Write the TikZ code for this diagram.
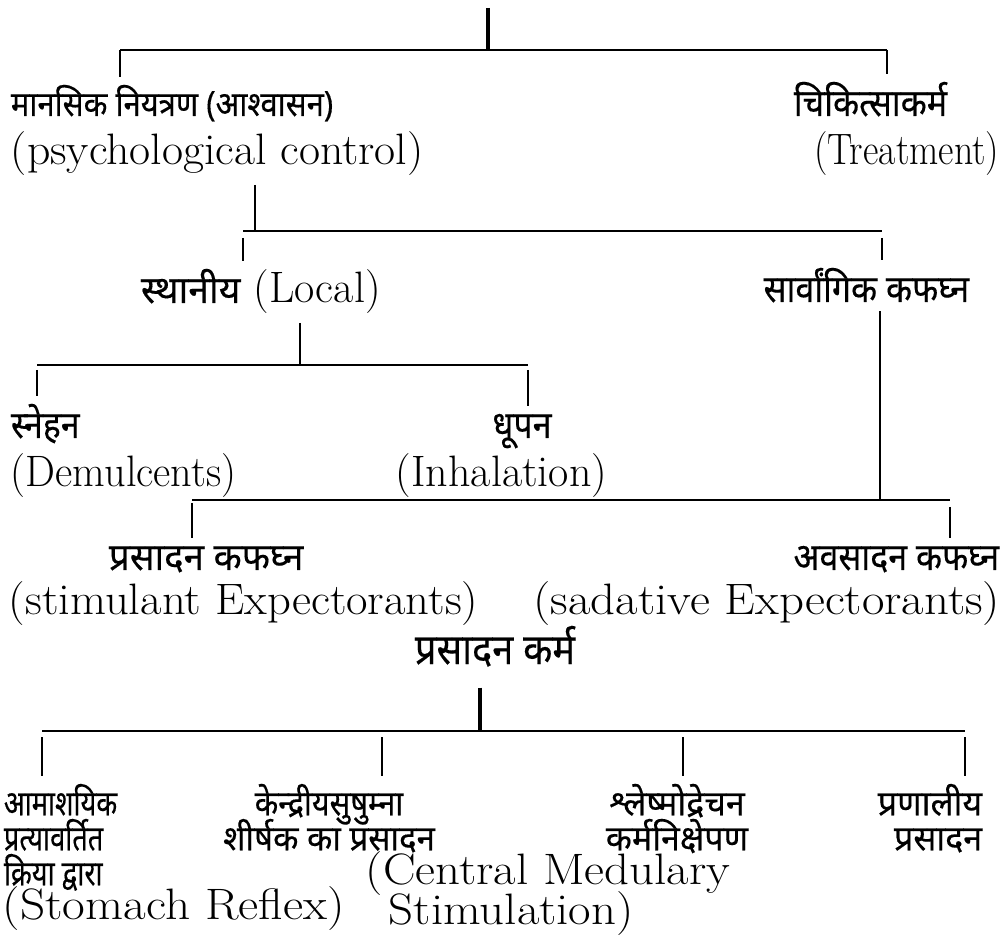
\documentclass[tikz,border=0pt]{standalone}
\usepackage{graphicx}
\usepackage{fontspec}
\newfontfamily\dev[Script=Devanagari,FakeBold=0.3]{Noto Sans}
\newcommand\hisize{\fontsize{34}{35}\selectfont}
\newcommand\tl[1]{\scalebox{1}[1.12]{#1}}
\newcommand\tlx[2]{\scalebox{#1}[1.12]{#2}}
\newcommand\tlb[2]{\scalebox{#1}[1.03]{#2}}
\newcommand\sx[2]{\scalebox{#1}[1]{#2}}
\begin{document}
\lineskiplimit=-100pt
\lineskip=0pt
\begin{tikzpicture}[x=1pt,y=-1pt,line width=1.8pt,
  en/.style={inner sep=0pt,font=\fontsize{44}{40}\selectfont},
  hi/.style={inner sep=0pt,font=\dev\hisize},
  hib/.style={inner sep=0pt,font=\dev\bfseries\fontsize{38}{38}\selectfont},
  stub/.style={line width=3.6pt},
  gap/.style={shorten >=7pt}]
\useasboundingbox (0,0) rectangle (1005,949);

% ---------- level 0 ----------
\node[hi,anchor=base west,font=\dev\fontsize{31}{32}\selectfont] (mn) at (10,116) {\tl{मानसिक नियत्रण (आश्वासन)}};
\node[en,anchor=base west] (mnE) at (10,165) {\sx{1.04}{(psychological control)}};
\node[hi,anchor=base east] (ck) at (948,116) {\tl{चिकित्साकर्म}};
\node[en,anchor=base east] (ckE) at (1000,165) {\sx{0.86}{(Treatment)}};
\coordinate (r0) at (488,8);
\coordinate (j0) at (488,50);
\coordinate (b0L) at (120,50);
\coordinate (b0R) at (887,50);
\draw[stub] (r0) -- (j0);
\draw (b0L) -- (b0R);
\draw[gap] (b0L) -- (b0L |- mn.north);
\draw[gap] (b0R) -- (b0R |- ck.north);

% ---------- level 1 ----------
\node[en,anchor=base west] (lo) at (140,303) {{\dev\hisize\tlx{1.1}{स्थानीय}} (Local)};
\node[hi,anchor=base east] (sv) at (970,302) {\tl{सार्वांगिक कफघ्न}};
\coordinate (j1) at (255,231);
\coordinate (b1L) at (243,231);
\coordinate (b1R) at (882,231);
\draw[shorten <=8pt] (j1 |- mnE.south) -- (j1);
\draw (b1L) -- (b1R);
\draw[shorten <=7pt,gap] (b1L) -- (b1L |- lo.north);
\draw[shorten <=7pt,gap] (b1R) -- (b1R |- sv.north);

% ---------- level 2 (Local) ----------
\node[hi,anchor=base west] (sn) at (10,438) {\tl{स्नेहन}};
\node[en,anchor=base west] (snE) at (10,487) {\sx{0.96}{(Demulcents)}};
\node[hi,anchor=base] (dh) at (522,438) {\tl{धूपन}};
\node[en,anchor=base west] (dhE) at (395,487) {(Inhalation)};
\coordinate (j2) at (300,365);
\coordinate (b2L) at (37,365);
\coordinate (b2R) at (528,365);
\draw[line width=2.6pt,shorten <=8pt] (j2 |- lo.south) -- (j2);
\draw (b2L) -- (b2R);
\draw[shorten <=5pt,gap] (b2L) -- (b2L |- sn.north);
\draw[shorten <=5pt,gap] (b2R) -- (b2R |- dh.north);

% ---------- level 3 (sarvangik) ----------
\node[hi,anchor=base west] (pk) at (108,570) {\tlx{1.08}{प्रसादन कफघ्न}};
\node[en,anchor=base west] (pkE) at (8,614) {\sx{1.06}{(stimulant Expectorants)}};
\node[hi,anchor=base east] (ak) at (1000,570) {\tl{अवसादन कफघ्न}};
\node[en,anchor=base east] (akE) at (1001,614) {\sx{1.11}{(sadative Expectorants)}};
\coordinate (j3) at (880,500);
\coordinate (b3L) at (192,500);
\coordinate (b3R) at (950,500);
\draw[shorten <=8pt] (j3 |- sv.south) -- (j3);
\draw (b3L) -- (b3R);
\draw[shorten <=3pt,gap] (b3L) -- (b3L |- pk.north);
\draw[shorten <=7pt,gap] (b3R) -- (b3R |- ak.north);

% ---------- level 4 (prasadan karma) ----------
\node[hib,anchor=base] (pm) at (495,664) {\tl{प्रसादन कर्म}};
\node[hi,align=left,anchor=north west] (c1) at (3,783) {\tlb{0.8}{आमाशयिक}\\\tlb{0.8}{प्रत्यावर्तित}\\\tlb{0.8}{क्रिया द्वारा}};
\node[en,anchor=base west] (c1E) at (2,919) {\sx{1.12}{(Stomach Reflex)}};
\node[hi,align=center,anchor=north] (c2) at (329,783) {\tlb{0.9}{केन्द्रीयसुषुम्ना}\\\tlb{0.97}{शीर्षक का प्रसादन}};
\node[en,align=left,anchor=north west] (c2E) at (365,851) {\sx{1.11}{(Central Medulary}\\\hspace*{23pt}\sx{1.11}{Stimulation)}};
\node[hi,align=center,anchor=north] (c3) at (677,783) {\tlb{1}{श्लेष्मोद्रेचन}\\\tlb{1}{कर्मनिक्षेपण}};
\node[hi,align=right,anchor=north east] (c4) at (983,783) {\tlb{1}{प्रणालीय}\\\tlb{1}{प्रसादन}};
\coordinate (j4) at (480,731);
\coordinate (b4a) at (42,731);
\coordinate (b4b) at (382,731);
\coordinate (b4c) at (683,731);
\coordinate (b4d) at (965,731);
\draw[stub,shorten <=20pt] (j4 |- pm.south) -- (j4);
\draw (b4a) -- (b4d);
\draw[shorten <=6pt,gap] (b4a) -- (b4a |- c1.north);
\draw[shorten <=6pt,gap] (b4b) -- (b4b |- c2.north);
\draw[shorten <=6pt,gap] (b4c) -- (b4c |- c3.north);
\draw[shorten <=6pt,gap] (b4d) -- (b4d |- c4.north);
\end{tikzpicture}
\end{document}
